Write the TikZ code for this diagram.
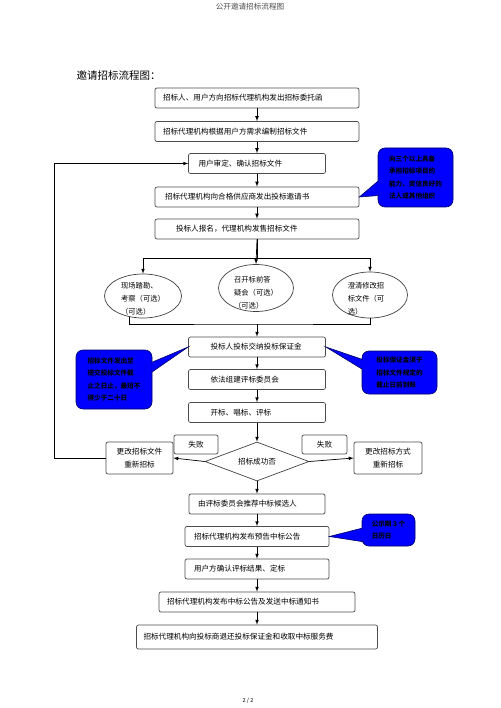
\documentclass[tikz,border=0pt]{standalone}
\usepackage{fontspec}
\setmainfont{Noto Sans CJK SC}
\usetikzlibrary{shapes.geometric,calc}

\begin{document}
\begin{tikzpicture}[x=1pt,y=-1pt,>=latex]
        \tikzstyle{stepbox}=[rectangle,rounded corners=2pt,draw=black!70,line width=0.7pt,minimum height=20pt,align=left,font=\fontsize{7.6}{13}\selectfont]
        \tikzstyle{failbox}=[stepbox,align=center]
        \tikzstyle{choice}=[ellipse,draw=black!75,line width=0.7pt,minimum width=77pt,minimum height=44pt]
        \tikzstyle{choicetext}=[align=left,font=\fontsize{7.3}{13}\selectfont]
        \tikzstyle{decision}=[diamond,draw=black!75,line width=0.7pt,aspect=2.67,minimum width=104pt,minimum height=39pt,inner sep=0pt,font=\fontsize{7.6}{9}\selectfont]
        \tikzstyle{note}=[rectangle,rounded corners=7pt,fill=blue,draw=blue!40!black,line width=0.6pt,align=left,font=\bfseries\fontsize{6.6}{12.5}\selectfont]
        \tikzstyle{pointer}=[draw=blue!40!black,line width=0.6pt]
        \tikzstyle{edge}=[draw,->,line width=0.7pt]
        \tikzstyle{line}=[draw,line width=0.7pt]
        \useasboundingbox (0,0) rectangle (500,708);

        \node[font=\fontsize{7.6}{9}\selectfont,text=black!70] (head) at (250,7) {公开邀请招标流程图};
        \node[anchor=west,font=\fontsize{10.5}{12}\selectfont] (title) at (73,76) {邀请招标流程图：};
        \node[font=\fontsize{5.5}{7}\selectfont] (foot) at (248,701) {2 / 2};

        % main steps
        \node [stepbox,text width=188pt,inner xsep=8pt] (b1) at (257,98) {招标人、用户方向招标代理机构发出招标委托函};
        \node [stepbox,text width=188pt,inner xsep=8pt] (b2) at (257,131.5) {招标代理机构根据用户方需求编制招标文件};
        \node [stepbox,text width=117pt,inner xsep=10pt] (b3) at (257,163.5) {用户审定、确认招标文件};
        \node [stepbox,text width=184pt,inner xsep=10pt] (b4) at (257,197) {招标代理机构向合格供应商发出投标邀请书};
        \node [stepbox,text width=162pt,inner xsep=21pt] (b5) at (257,229) {投标人报名，代理机构发售招标文件};
        \node [choice,label={[choicetext,yshift=-3pt]center:现场踏勘、\\考察（可选）\\（可选）}] (e1) at (143,296) {};
        \node [choice,minimum width=75pt,minimum height=47pt,label={[choicetext,yshift=-5pt]center:召开标前答\\疑会（可选）\\（可选）}] (e2) at (256,288) {};
        \node [choice,minimum width=75pt,minimum height=46pt,label={[choicetext,yshift=-4pt,xshift=-4pt]center:澄清修改招\\标文件（可\\选）}] (e3) at (370,295) {};
        \node [stepbox,text width=93pt,inner xsep=22pt] (b6) at (257,347) {投标人投标交纳投标保证金};
        \node [stepbox,text width=93pt,inner xsep=22pt] (b7) at (257,379.5) {依法组建评标委员会};
        \node [stepbox,text width=93pt,inner xsep=22pt] (b8) at (257,412.5) {开标、唱标、评标};
        \node [decision] (d1) at (257,461.5) {招标成功否};
        \node [failbox,minimum width=44pt,minimum height=19pt] (fl) at (196,444.5) {失败};
        \node [failbox,minimum width=45pt,minimum height=19pt] (fr) at (324.5,444.5) {失败};
        \node [failbox,minimum width=67pt,minimum height=32pt] (lf) at (139.5,458) {更改招标文件\\重新招标};
        \node [failbox,minimum width=68pt,minimum height=32pt] (rf) at (388,458) {更改招标方式\\重新招标};
        \node [stepbox,text width=118pt,inner xsep=9pt] (b9) at (257,504) {由评标委员会推荐中标候选人};
        \node [stepbox,text width=126pt,inner xsep=9pt] (b10) at (257,536.5) {招标代理机构发布预告中标公告};
        \node [stepbox,text width=126pt,inner xsep=9pt] (b11) at (257,569) {用户方确认评标结果、定标};
        \node [stepbox,text width=180pt,inner xsep=8pt] (b12) at (257,602) {招标代理机构发布中标公告及发送中标通知书};
        \node [stepbox,text width=227pt,inner xsep=7pt,minimum height=24pt] (b13) at (257,637) {招标代理机构向投标商退还投标保证金和收取中标服务费};

        % notes
        \node [note,minimum width=75pt,minimum height=59pt] (c1) at (415.5,177.5) {向三个以上具备\\承担招标项目的\\能力、资信良好的\\法人或其他组织};
        \node [note,minimum width=76pt,minimum height=59pt] (c2) at (114,379.5) {招标文件发出至\\提交投标文件截\\止之日止，最短不\\得少于二十日};
        \node [note,minimum width=75pt,minimum height=43pt] (c3) at (399.5,372.5) {投标保证金须于\\招标文件规定的\\截止日前到账};
        \node [note,minimum width=53pt,minimum height=32pt] (c4) at (388.5,530) {公示期 3 个\\日历日};
        \fill[blue] ($(c1.west)+(1,3)$) -- (b4.east) -- ($(c1.west)+(1,18)$) -- cycle;
        \path[pointer] ($(c1.west)+(1,3)$) -- (b4.east) -- ($(c1.west)+(1,18)$);
        \fill[blue] ($(c2.east)+(-1,-17)$) -- (b6.west) -- ($(c2.east)+(-1,-7)$) -- cycle;
        \path[pointer] ($(c2.east)+(-1,-17)$) -- (b6.west) -- ($(c2.east)+(-1,-7)$);
        \fill[blue] ($(c3.west)+(1,-13)$) -- (b6.east) -- ($(c3.west)+(1,-3)$) -- cycle;
        \path[pointer] ($(c3.west)+(1,-13)$) -- (b6.east) -- ($(c3.west)+(1,-3)$);
        \fill[blue] ($(c4.west)+(1,-2)$) -- (b10.east) -- ($(c4.west)+(3,12)$) -- cycle;
        \path[pointer] ($(c4.west)+(1,-2)$) -- (b10.east) -- ($(c4.west)+(3,12)$);

        % connectors
        \path[edge] (b1) edge (b2);
        \path[edge] (b2) edge (b3);
        \path[edge] (b3) edge (b4);
        \path[edge] (b4) edge (b5);
        \path[edge] (b5.south) -- (e2.north);
        \path[edge] (b5.south) -- ++(0,19) -| (e1.north);
        \path[edge] (b5.south) -- ++(0,19) -| (e3.north);
        \coordinate (m) at (257,324);
        \path[line] (e1.236) |- (m) -| (e3.south);
        \path[edge] (m) -- (b6.north);
        \path[edge] (b6) edge (b7);
        \path[edge] (b7) edge (b8);
        \path[edge] (b8) edge (d1);
        \path[edge] (d1.west) -- (lf.east);
        \path[edge] (d1.east) -- (rf.west);
        \path[edge] (lf.west) -- ++(-51,0) |- (b3.west);
        \path[edge] (d1) edge (b9);
        \path[edge] (b9) edge (b10);
        \path[edge] (b10) edge (b11);
        \path[edge] (b11) edge (b12);
        \path[edge] (b12) edge (b13);
\end{tikzpicture}
\end{document}
